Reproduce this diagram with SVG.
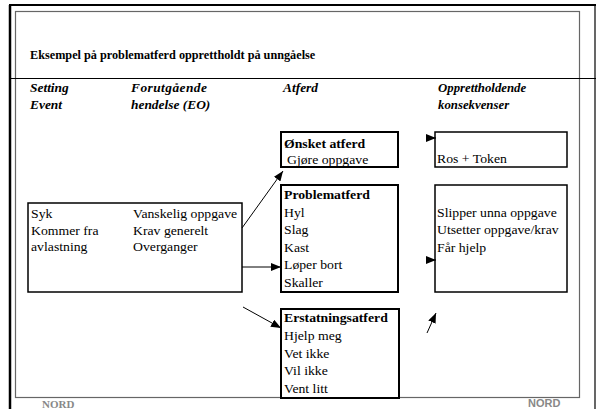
<svg xmlns="http://www.w3.org/2000/svg" width="598" height="409" viewBox="0 0 598 409">
<style>
text{font-family:"Liberation Serif","Times New Roman",serif;font-size:12.5px;fill:#000}
.b{font-weight:bold}
.h{font-weight:bold;font-style:italic;font-size:12.2px}
.t{font-weight:bold;font-size:12px}
.box{fill:#fff;stroke:#000;stroke-width:1.5}
.bx2{fill:#fff;stroke:#000;stroke-width:2}
.ln{stroke:#000;stroke-width:1;fill:none}
.logo{fill:#888;font-weight:bold}
</style>
<defs>
<marker id="ah" viewBox="0 0 10 8" refX="10" refY="4" markerWidth="10" markerHeight="8" markerUnits="userSpaceOnUse" orient="auto">
<path d="M0,0 L10,4 L0,8 Z" fill="#000"/>
</marker>
</defs>
<rect width="598" height="409" fill="#fff"/>
<g id="frame">
<line x1="9" y1="5" x2="596" y2="5" stroke="#000" stroke-width="2"/>
<line x1="10" y1="5" x2="10" y2="409" stroke="#000" stroke-width="2.5"/>
<line x1="595" y1="5" x2="595" y2="409" stroke="#000" stroke-width="1.2"/>
<rect x="15.5" y="11.5" width="564" height="386" fill="none" stroke="#666" stroke-width="1.2"/>
<line x1="9" y1="78.5" x2="596" y2="78.5" stroke="#000" stroke-width="1"/>
</g>
<g id="title">
<text class="t" transform="translate(30,59) scale(1.02,1)">Eksempel på problematferd opprettholdt på unngåelse</text>
</g>
<g id="headers">
<text class="h" transform="translate(30,92) scale(1.1,1)">Setting</text>
<text class="h" transform="translate(30,109) scale(1.1,1)">Event</text>
<text class="h" transform="translate(131,92) scale(1.1,1)" letter-spacing="0.4">Forutgående</text>
<text class="h" transform="translate(131,109) scale(1.1,1)">hendelse (EO)</text>
<text class="h" transform="translate(283,92) scale(1.1,1)">Atferd</text>
<text class="h" transform="translate(438,92) scale(1.05,1)">Opprettholdende</text>
<text class="h" transform="translate(438,109) scale(1.05,1)">konsekvenser</text>
</g>
<g id="setting-antecedent">
<rect class="box" x="28" y="203" width="214" height="89"/>
<text transform="translate(31,218) scale(1.1,1)">Syk</text>
<text transform="translate(31,234.5) scale(1.1,1)">Kommer fra</text>
<text transform="translate(31,251) scale(1.1,1)">avlastning</text>
<text transform="translate(133,218) scale(1.1,1)">Vanskelig oppgave</text>
<text transform="translate(133,234.5) scale(1.1,1)">Krav generelt</text>
<text transform="translate(133,251) scale(1.1,1)">Overganger</text>
</g>
<g id="onsket-atferd">
<rect class="bx2" x="281" y="132" width="117" height="35"/>
<text class="b" transform="translate(284,148) scale(1.1,1)">Ønsket atferd</text>
<text transform="translate(287,164) scale(1.1,1)">Gjøre oppgave</text>
</g>
<g id="problematferd">
<rect class="bx2" x="281" y="185" width="117" height="107"/>
<text class="b" transform="translate(284,199) scale(1.1,1)">Problematferd</text>
<text transform="translate(284,216.5) scale(1.1,1)">Hyl</text>
<text transform="translate(284,234) scale(1.1,1)">Slag</text>
<text transform="translate(284,251.5) scale(1.1,1)">Kast</text>
<text transform="translate(284,269) scale(1.1,1)">Løper bort</text>
<text transform="translate(284,286.5) scale(1.1,1)">Skaller</text>
</g>
<g id="erstatningsatferd">
<rect class="bx2" x="281" y="309" width="118" height="89"/>
<text class="b" transform="translate(284,322) scale(1.1,1)">Erstatningsatferd</text>
<text transform="translate(284,340) scale(1.1,1)">Hjelp meg</text>
<text transform="translate(284,357.5) scale(1.1,1)">Vet ikke</text>
<text transform="translate(284,375) scale(1.1,1)">Vil ikke</text>
<text transform="translate(284,392.5) scale(1.1,1)">Vent litt</text>
</g>
<g id="ros-token">
<rect class="box" x="435" y="132" width="132" height="35" stroke-width="1.2"/>
<text transform="translate(437,163) scale(1.1,1)">Ros + Token</text>
</g>
<g id="konsekvenser">
<rect class="box" x="435" y="185" width="132" height="107"/>
<text transform="translate(437,216.5) scale(1.1,1)">Slipper unna oppgave</text>
<text transform="translate(437,234) scale(1.1,1)">Utsetter oppgave/krav</text>
<text transform="translate(437,251.5) scale(1.1,1)">Får hjelp</text>
</g>
<g id="connectors">
<line class="ln" x1="242" y1="228" x2="283" y2="171" marker-end="url(#ah)"/>
<line class="ln" x1="242" y1="267" x2="281" y2="267" marker-end="url(#ah)"/>
<line class="ln" x1="243" y1="307" x2="281" y2="328" marker-end="url(#ah)"/>
<line class="ln" x1="426" y1="138" x2="436" y2="138" marker-end="url(#ah)"/>
<line class="ln" x1="426" y1="260" x2="436" y2="260" marker-end="url(#ah)"/>
<line class="ln" x1="427" y1="333" x2="436" y2="313" marker-end="url(#ah)"/>
</g>
<g id="footer">
<text class="logo" x="42" y="408" style="font-size:11px">NORD</text>
<text class="logo" x="528" y="407" style="font-family:'Liberation Sans',Arial,sans-serif;font-size:11px">NORD</text>
</g>
</svg>
